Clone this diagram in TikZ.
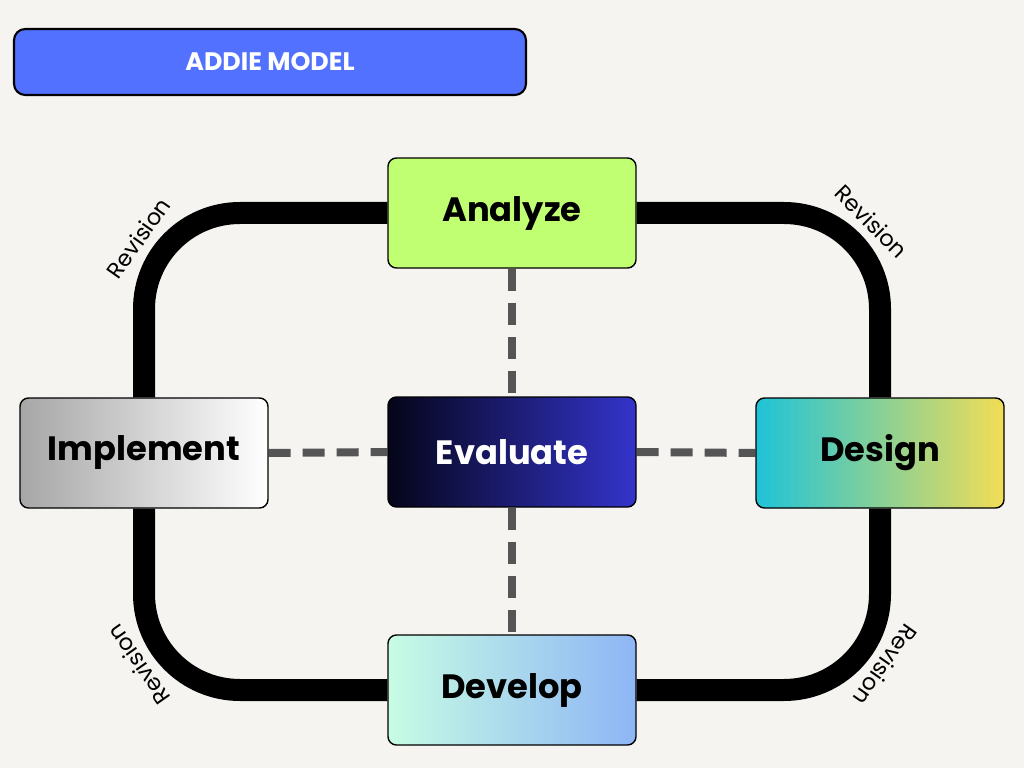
\documentclass[tikz,border=0pt]{standalone}
\usepackage{fontspec}
\setmainfont{Poppins}
\usetikzlibrary{positioning}
\pgfdeclarelayer{back}
\pgfsetlayers{back,main}
\definecolor{paper}{HTML}{F5F4F0}
\definecolor{titleblue}{HTML}{5271FF}
\definecolor{dashgray}{HTML}{555555}
\definecolor{analyzegreen}{HTML}{C1FF72}
\definecolor{evalleft}{HTML}{05051A}
\definecolor{evalright}{HTML}{3434CC}
\definecolor{implleft}{HTML}{A6A6A6}
\definecolor{designleft}{HTML}{1FC3D8}
\definecolor{designright}{HTML}{F2DD55}
\definecolor{devleft}{HTML}{C7FCE4}
\definecolor{devright}{HTML}{8EB5F5}
\tikzset{
  stage/.style={rectangle, draw=black, line width=1pt, rounded corners=6pt,
    minimum width=6.2cm, minimum height=2.75cm, font=\fontsize{24}{28}\selectfont\bfseries},
  cycleline/.style={line width=0.55cm, rounded corners=2.4cm},
  link/.style={line width=0.2cm, draw=dashgray, dash pattern=on 0.55cm off 0.3cm},
  revlabel/.style={font=\fontsize{16}{18}\selectfont}
}
\begin{document}
\begin{tikzpicture}
\useasboundingbox (0,0) rectangle (25.6,-19.2);
\begin{pgfonlayer}{back}
\fill[paper] (0,0) rectangle (25.6,-19.2);
\end{pgfonlayer}

\node[rectangle, draw=black, line width=1.5pt, fill=titleblue, rounded corners=8pt,
  minimum width=12.8cm, minimum height=1.65cm, text=white,
  font=\fontsize{18}{20}\selectfont\bfseries](title) at (6.75,-1.55){ADDIE MODEL};

\node[stage, fill=analyzegreen](analyze) at (12.8,-5.325){Analyze};
\node[stage, left color=evalleft, right color=evalright, text=white](evaluate) at (12.8,-11.3){Evaluate};
\node[stage, left color=implleft, right color=white](implement) at (3.6,-11.325){Implement};
\node[stage, left color=designleft, right color=designright](design) at (22,-11.325){Design};
\node[stage, left color=devleft, right color=devright](develop) at (12.8,-17.25){Develop};

\begin{pgfonlayer}{back}
	\draw[cycleline] (analyze.west) -| (implement.north);
	\draw[cycleline] (analyze.east) -| (design.north);
	\draw[cycleline] (develop.east) -| (design.south);
	\draw[cycleline] (develop.west) -| (implement.south);
	\draw[link] (analyze.south) -- (evaluate.north);
	\draw[link] (evaluate.south) -- (develop.north);
	\draw[link] (implement.east) -- (evaluate.west);
	\draw[link] (evaluate.east) -- (design.west);
\end{pgfonlayer}

\node[revlabel, rotate=55](revTL) at (3.46,-5.95){Revision};
\node[revlabel, rotate=-45](revTR) at (21.79,-5.53){Revision};
\node[revlabel, rotate=-125](revBR) at (22.14,-16.63){Revision};
\node[revlabel, rotate=125](revBL) at (3.46,-16.63){Revision};
\end{tikzpicture}
\end{document}
